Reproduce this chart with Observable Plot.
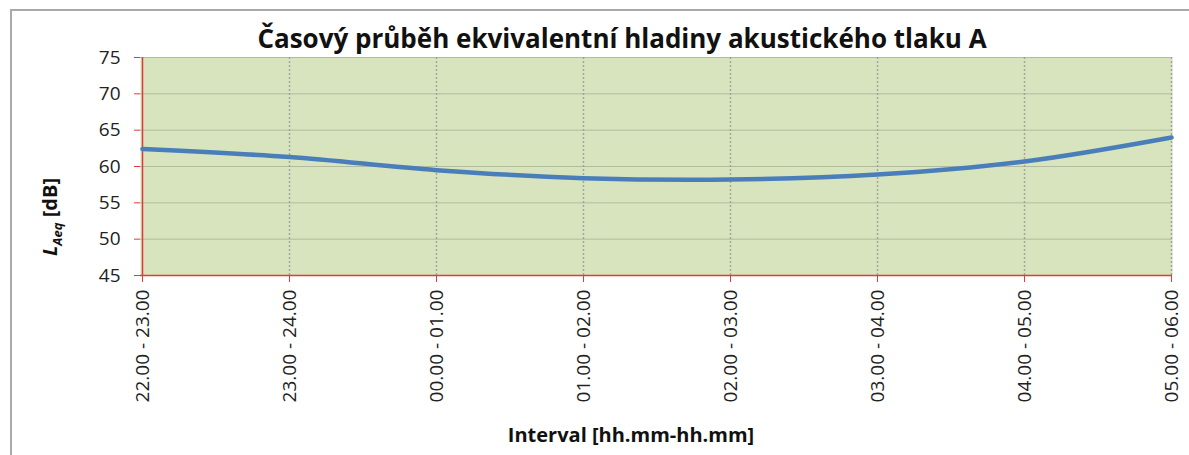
<!DOCTYPE html>
<html><head><meta charset="utf-8">
<script src="https://cdn.jsdelivr.net/npm/d3@7"></script>
<script src="https://cdn.jsdelivr.net/npm/@observablehq/plot@0.6"></script>
<style>
html,body{margin:0;padding:0;background:#fff;width:1189px;height:455px;overflow:hidden;font-family:"Open Sans",sans-serif;}
#wrap{position:relative;width:1189px;height:455px;overflow:hidden;}
#border{position:absolute;left:10px;top:9px;width:1200px;height:470px;border:2px solid #a9a9a9;box-sizing:border-box;}
#chart{position:absolute;left:0;top:0;}
#title{position:absolute;left:0;top:25px;width:1244px;text-align:center;font-weight:bold;font-size:26px;color:#111;line-height:1;white-space:nowrap;}
#ylabel{position:absolute;left:51px;top:217px;transform:translate(-50%,-50%) rotate(-90deg);white-space:nowrap;font-weight:bold;font-size:20px;color:#111;}
#ylabel sub{font-size:13px;}
#xlabel{position:absolute;left:0;top:425px;width:1262px;text-align:center;font-weight:bold;font-size:20px;color:#111;line-height:1;white-space:nowrap;}
</style>
</head><body>
<div id="wrap">
<div id="border"></div>
<div id="chart"></div>
<div id="title">Časový průběh ekvivalentní hladiny akustického tlaku A</div>
<div id="ylabel"><i>L</i><sub><i>Aeq</i></sub> [dB]</div>
<div id="xlabel">Interval [hh.mm-hh.mm]</div>
</div>
<script>
const intervals = ["22.00 - 23.00", "23.00 - 24.00", "00.00 - 01.00", "01.00 - 02.00", "02.00 - 03.00", "03.00 - 04.00", "04.00 - 05.00", "05.00 - 06.00"];
const laeq = [62.4, 61.3, 59.5, 58.4, 58.2, 58.9, 60.7, 64.0];
const yTicks = [45, 50, 55, 60, 65, 70, 75];

const data = intervals.map((k, i) => ({interval: k, value: laeq[i]}));
const red = "#e03a3a";

const chart = Plot.plot({
  width: 1189, height: 455,
  marginTop: 57, marginBottom: 180, marginLeft: 140, marginRight: 17,
  style: {background: "transparent", fontFamily: "'Open Sans', sans-serif", overflow: "visible"},
  x: {type: "point", domain: intervals, padding: 0, label: null},
  y: {domain: [45, 75], label: null},
  marks: [
    Plot.frame({fill: "#d7e4bd", stroke: null}),
    Plot.ruleY(yTicks.slice(1), {stroke: "#b3bb9f", strokeWidth: 1}),
    Plot.ruleX(intervals.slice(1), {stroke: "#a3a3a3", strokeDasharray: "2,2", strokeWidth: 1.5}),
    Plot.axisY({ticks: yTicks, tickSize: 6, tickPadding: 14, stroke: red, fill: "#222", fontSize: 19, label: null}),
    Plot.axisX({tickSize: 7, tickRotate: -90, tickPadding: 7, stroke: red, fill: "#222", fontSize: 19, label: null}),
    Plot.ruleX([intervals[0]], {stroke: red, strokeWidth: 1.5}),
    Plot.ruleY([45], {stroke: red, strokeWidth: 1.5}),
    Plot.line(data, {x: "interval", y: "value", stroke: "#4a7ebb", strokeWidth: 4.5, curve: "cardinal", tension: 0})
  ]
});
document.getElementById("chart").appendChild(chart);
</script>
</body></html>
